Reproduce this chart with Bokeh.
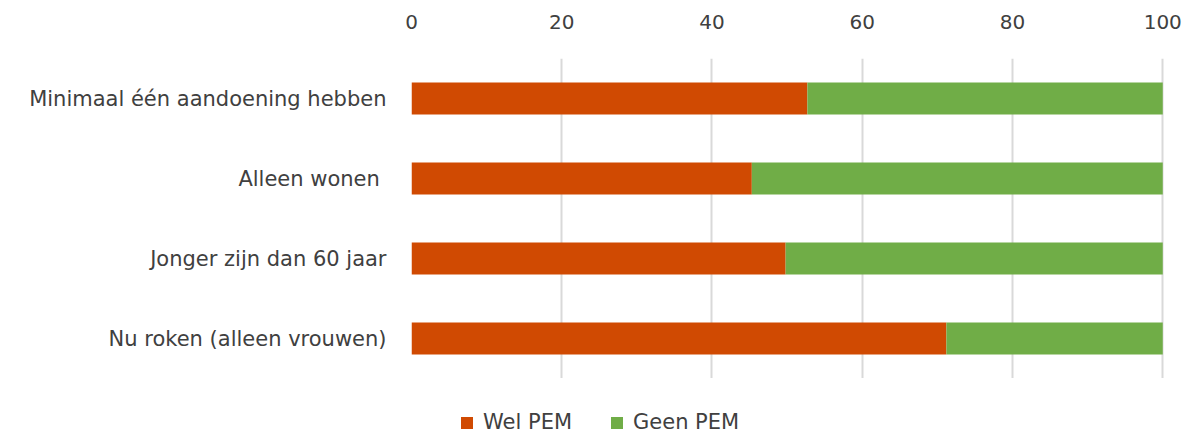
from bokeh.plotting import figure
from bokeh.layouts import column
from bokeh.models import Range1d, FactorRange, FixedTicker, Legend, LegendItem, LinearAxis, ColumnDataSource
from bokeh.embed import file_html
from bokeh.resources import INLINE

categories = ["Minimaal één aandoening hebben", "Alleen wonen ", "Jonger zijn dan 60 jaar", "Nu roken (alleen vrouwen)"]
wel_pem = [52.7, 45.3, 49.8, 71.2]
geen_pem = [47.3, 54.7, 50.2, 28.8]
series_names = ["Wel PEM", "Geen PEM"]
colors = ["#D04A02", "#70AD47"]
x_ticks = [0, 20, 40, 60, 80, 100]

FONT = "DejaVu Sans"
TXT = "#404040"

src = ColumnDataSource(dict(cat=categories, wel=wel_pem, geen=geen_pem))

p = figure(width=1198, height=378, output_backend="svg", toolbar_location=None,
           y_range=FactorRange(factors=list(reversed(categories))),
           x_range=Range1d(0, 100.5), x_axis_location=None,
           min_border_left=411, min_border_right=32, min_border_top=58, min_border_bottom=0)
p.outline_line_color = None

p.hbar_stack(["wel", "geen"], y="cat", height=0.4, color=colors, source=src, line_color=None)

top = LinearAxis(ticker=FixedTicker(ticks=x_ticks))
top.axis_line_color = None
top.major_tick_line_color = None
top.minor_tick_line_color = None
top.major_label_text_font = FONT
top.major_label_text_font_size = "20px"
top.major_label_text_color = TXT
top.major_label_standoff = 24
p.add_layout(top, "above")

p.xgrid.ticker = FixedTicker(ticks=x_ticks)
p.xgrid.grid_line_color = "#d9d9d9"
p.xgrid.grid_line_width = 2
p.ygrid.grid_line_color = None

ya = p.yaxis[0]
ya.axis_line_color = None
ya.major_tick_line_color = None
ya.minor_tick_line_color = None
ya.major_label_text_font = FONT
ya.major_label_text_font_size = "21px"
ya.major_label_text_color = TXT
ya.major_label_standoff = 19

# legend strip below the chart (its frame is aligned with the chart's frame)
lg = figure(width=1198, height=56, output_backend="svg", toolbar_location=None,
            y_range=FactorRange(factors=list(reversed(categories))),
            x_range=Range1d(0, 100.5), x_axis_location=None, y_axis_location=None,
            min_border_left=411, min_border_right=32, min_border_top=0, min_border_bottom=0)
lg.outline_line_color = None
lg.grid.grid_line_color = None
lr = lg.hbar_stack(["wel", "geen"], y="cat", height=0.0, color=colors, source=src, line_color=None)

legend = Legend(items=[LegendItem(label=series_names[0], renderers=[lr[0]]),
                       LegendItem(label=series_names[1], renderers=[lr[1]])],
                orientation="horizontal", location=(48, 0))
legend.glyph_width = 15
legend.glyph_height = 15
legend.label_standoff = 9
legend.spacing = 37
legend.padding = 0
legend.margin = 0
legend.label_height = 20
legend.border_line_alpha = 0
legend.background_fill_alpha = 0
legend.label_text_font = FONT
legend.label_text_font_size = "21px"
legend.label_text_color = TXT
lg.add_layout(legend, "center")

open("out.html", "w").write(file_html(column(p, lg), INLINE))
